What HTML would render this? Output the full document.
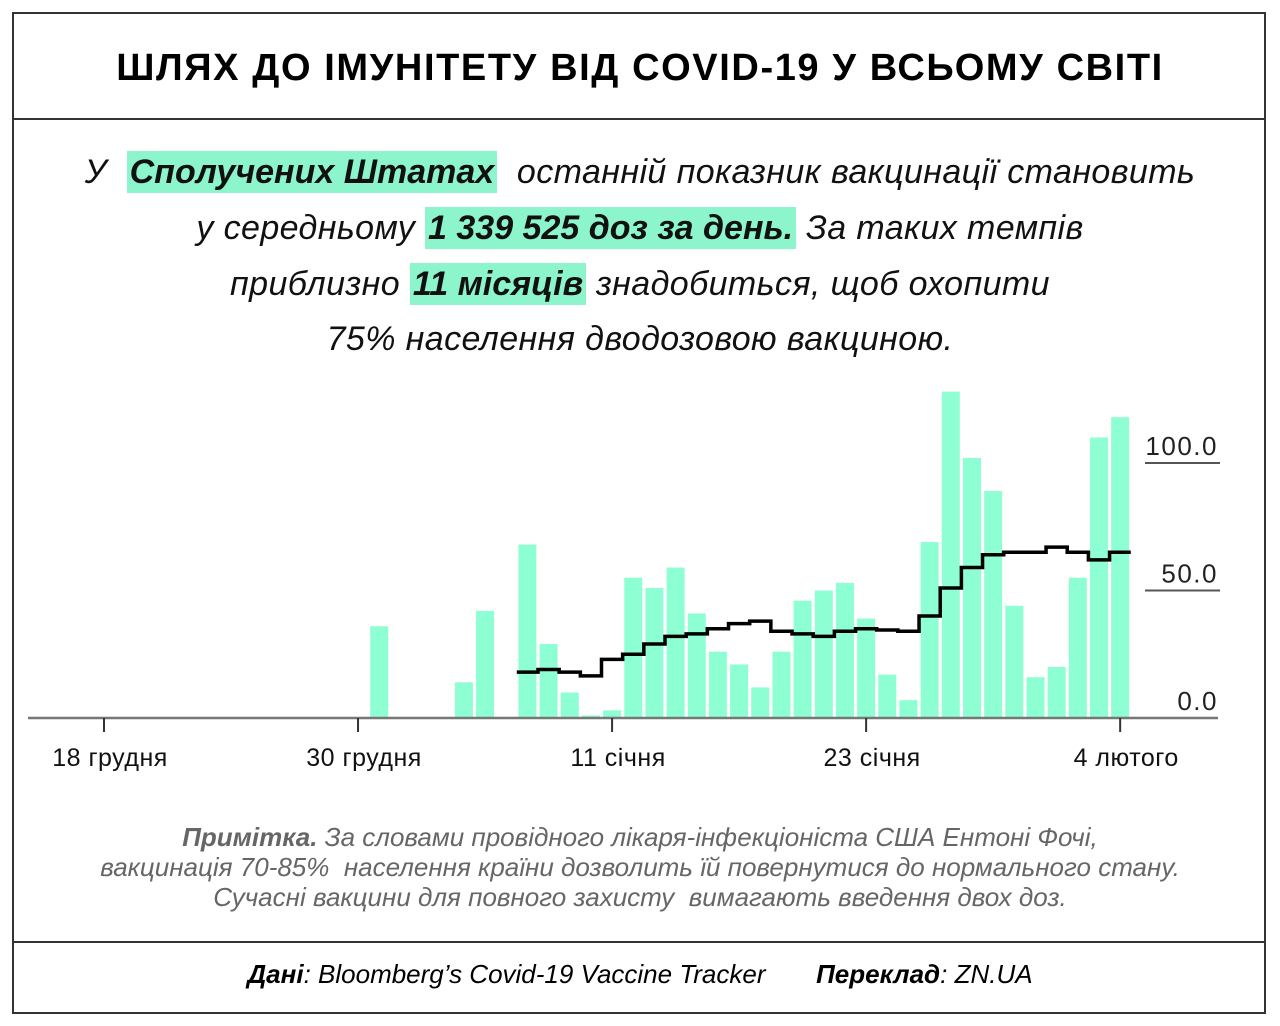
<!DOCTYPE html>
<html><head><meta charset="utf-8"><style>
body{margin:0;width:1280px;height:1026px;background:#fff;font-family:"Liberation Sans",sans-serif;position:relative;overflow:hidden}
.box{position:absolute;left:12px;top:12px;width:1254px;height:1002px;border:2px solid #333;box-sizing:border-box}
.hl{position:absolute;top:118px;left:12px;width:1254px;border-top:2px solid #333}
.hl2{position:absolute;top:941px;left:12px;width:1254px;border-top:2px solid #333}
.title{position:absolute;top:47px;left:0;width:1280px;text-align:center;font-weight:bold;font-size:38px;letter-spacing:1.6px}
.sub{position:absolute;left:0;width:1280px;text-align:center;font-style:italic;font-size:34px;color:#111;white-space:nowrap;letter-spacing:0.4px}
.mark{background:#8cf5cc;font-weight:bold;padding:2px 3px;letter-spacing:0}
.note{position:absolute;left:0;width:1280px;text-align:center;font-style:italic;font-size:26px;color:#666;line-height:30px;top:822px;white-space:nowrap}
.foot{position:absolute;left:0;width:1280px;text-align:center;font-style:italic;font-size:26px;top:959px}
</style></head><body>
<div class="box"></div>
<div class="hl"></div>
<div class="hl2"></div>
<div class="title">ШЛЯХ ДО ІМУНІТЕТУ ВІД COVID-19 У ВСЬОМУ СВІТІ</div>
<div class="sub" style="top:153px">У &nbsp;<span class="mark">Сполучених Штатах</span>&nbsp; останній показник вакцинації становить</div>
<div class="sub" style="top:209px">у середньому <span class="mark">1 339 525 доз за день.</span> За таких темпів</div>
<div class="sub" style="top:265px">приблизно <span class="mark">11 місяців</span> знадобиться, щоб охопити</div>
<div class="sub" style="top:320px">75% населення дводозовою вакциною.</div>
<svg id="chart" width="1280" height="800" style="position:absolute;left:0;top:0"></svg>
<div class="note"><b>Примітка.</b> За словами провідного лікаря-інфекціоніста США Ентоні Фочі,<br>вакцинація 70-85%&nbsp; населення країни дозволить їй повернутися до нормального стану.<br>Сучасні вакцини для повного захисту&nbsp; вимагають введення двох доз.</div>
<div class="foot"><b>Дані</b>: Bloomberg’s Covid-19 Vaccine Tracker &nbsp;&nbsp;&nbsp;&nbsp;&nbsp; <b>Переклад</b>: ZN.UA</div>
<script>
const barDays=[13,17,18,20,21,22,23,24,25,26,27,28,29,30,31,32,33,34,35,36,37,38,39,40,41,42,43,44,45,46,47,48];
const barValues=[36,14,42,68,29,10,1,3,55,51,59,41,26,21,12,26,46,50,53,39,17,7,69,128,102,89,44,16,20,55,110,118];
const avgDays=[20,21,22,23,24,25,26,27,28,29,30,31,32,33,34,35,36,37,38,39,40,41,42,43,44,45,46,47,48];
const avgValues=[18,19,18,16.5,23,25,29,32,33,35,37,38,34,33,32,34,35,34.5,34,40,51,59,64,65,65,67,65,62,65];
const tickDays=[0,12,24,36,48];
const tickLabels=["18 грудня","30 грудня","11 січня","23 січня","4 лютого"];
const yTicks=[0,50,100];
const yLabels=["0.0","50.0","100.0"];
const NS="http://www.w3.org/2000/svg";
const svg=document.getElementById('chart');
const x=d=>104+d*21.17;
const y=v=>718-v*2.55;
function mk(t,a){const e=document.createElementNS(NS,t);for(const k in a)e.setAttribute(k,a[k]);svg.appendChild(e);return e;}
barDays.forEach((d,i)=>{
 const r=mk('rect',{x:x(d)-9,y:y(barValues[i]),width:18,height:718-y(barValues[i]),fill:'#8effd2'});
 
 
});
let p='';
avgDays.forEach((d,i)=>{const yy=y(avgValues[i]);p+=(i?'L'+(x(d)-10.6)+' '+yy:'M'+(x(d)-10.6)+' '+yy)+' L'+(x(d)+10.6)+' '+yy+' ';});
const ln=mk('path',{d:p,fill:'none',stroke:'#000','stroke-width':3.5});


const ax=mk('line',{x1:28,x2:1218,y1:718,y2:718,stroke:'#777','stroke-width':2.5});


tickDays.forEach((d,i)=>{
 const t=mk('line',{x1:x(d),x2:x(d),y1:718,y2:732,stroke:'#333','stroke-width':2});
 
 
 const tx=mk('text',{x:x(d)+6,y:766,'text-anchor':'middle','font-size':25,fill:'#111','font-family':'Liberation Sans','letter-spacing':'0.5'});
 tx.textContent=tickLabels[i];
 
 
});
yTicks.forEach((v,i)=>{
 if(v>0){const g=mk('line',{x1:1145,x2:1220,y1:y(v),y2:y(v),stroke:'#555','stroke-width':2});
 
 }
 const t=mk('text',{x:1218,y:y(v)-8,'text-anchor':'end','font-size':26,fill:'#222','font-family':'Liberation Sans','letter-spacing':'1.5'});
 t.textContent=yLabels[i];
 
 
});
</script>
</body></html>
